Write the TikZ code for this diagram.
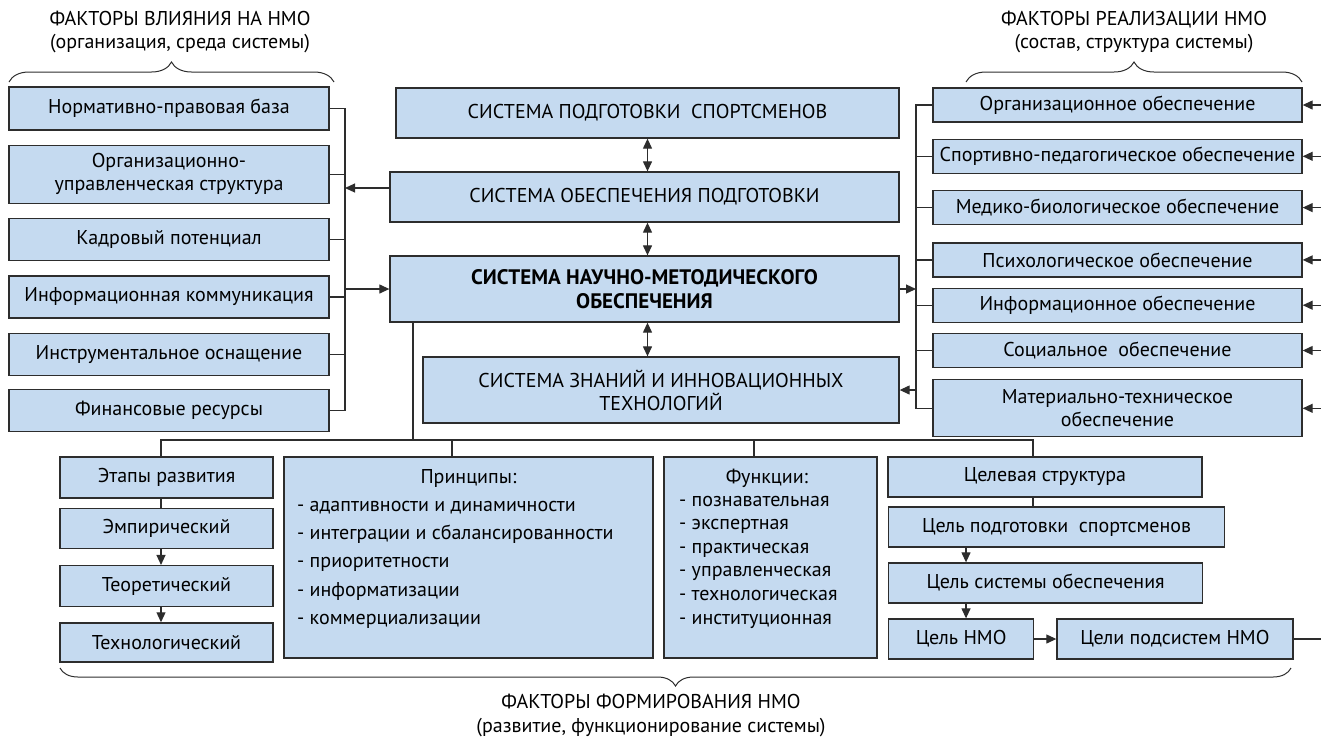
\documentclass[tikz,border=0pt]{standalone}
\usepackage{fontspec}
\setmainfont{PT Sans}
\usetikzlibrary{positioning,arrows.meta,decorations.pathreplacing}
\definecolor{boxblue}{RGB}{197,218,240}
\definecolor{edge}{RGB}{45,45,45}

\begin{document}
\begin{tikzpicture}[x=1pt,y=-1pt,
    box/.style={draw=edge, fill=boxblue, line width=1.3pt, inner sep=3pt, align=center, font=\fontsize{20}{23}\selectfont},
    lbox/.style={box, minimum width=320pt, minimum height=42pt},
    rbox/.style={box, minimum width=369pt, minimum height=34pt},
    sysbox/.style={box, minimum height=50pt},
    stage/.style={box, minimum width=213pt, minimum height=40pt},
    goal/.style={box, minimum height=40pt},
    txt/.style={font=\fontsize{20}{23}\selectfont, inner sep=0pt},
    link/.style={draw=edge, line width=1.2pt},
    arr/.style={link, -{Triangle[length=10pt,width=9pt]}},
    darr/.style={link, {Triangle[length=10pt,width=9pt]}-{Triangle[length=10pt,width=9pt]}},
    curly/.style={draw=edge, line width=1pt, decorate, decoration={brace, amplitude=#1}},
]
\useasboundingbox (0,0) rectangle (1321,740);

% headings
\node[txt, align=center] (infl) at (180,32) {ФАКТОРЫ ВЛИЯНИЯ НА НМО\\(организация, среда системы)};
\node[txt, align=center] (real) at (1134,32) {ФАКТОРЫ РЕАЛИЗАЦИИ НМО\\(состав, структура системы)};
\draw[curly=20pt] (9,82) -- (334,82);
\draw[curly=20pt] (966,82) -- (1302,82);

% left column
\node[lbox, minimum height=43pt] (norm) at (169,108.5) {Нормативно-правовая база};
\node[lbox, minimum height=58pt, below=14pt of norm] (orgu) {Организационно-\\управленческая структура};
\node[lbox, below=14pt of orgu] (kadr) {Кадровый потенциал};
\node[lbox, below=14pt of kadr] (info) {Информационная коммуникация};
\node[lbox, below=14pt of info] (instr) {Инструментальное оснащение};
\node[lbox, below=13pt of instr] (fin) {Финансовые ресурсы};

% centre
\node[sysbox, minimum width=503pt] (sps) at (647.5,113) {СИСТЕМА ПОДГОТОВКИ\ \ СПОРТСМЕНОВ};
\node[sysbox, minimum width=509pt] (sop) at (644.5,197) {СИСТЕМА ОБЕСПЕЧЕНИЯ ПОДГОТОВКИ};
\node[sysbox, minimum width=509pt, minimum height=66pt, font=\fontsize{21}{24}\selectfont\bfseries] (nmo) at (644.5,289) {СИСТЕМА НАУЧНО-МЕТОДИЧЕСКОГО\\ОБЕСПЕЧЕНИЯ};
\node[sysbox, minimum width=476pt, minimum height=66pt] (szit) at (661,390) {СИСТЕМА ЗНАНИЙ И ИННОВАЦИОННЫХ\\ТЕХНОЛОГИЙ};

% right column
\node[rbox] (rorg) at (1117.5,105) {Организационное обеспечение};
\node[rbox, below=16pt of rorg] (rsport) {Спортивно-педагогическое обеспечение};
\node[rbox, below=16pt of rsport] (rmed) {Медико-биологическое обеспечение};
\node[rbox, below=17pt of rmed] (rpsy) {Психологическое обеспечение};
\node[rbox, below=10pt of rpsy] (rinf) {Информационное обеспечение};
\node[rbox, below=10pt of rinf] (rsoc) {Социальное\ \ обеспечение};
\node[rbox, minimum height=57pt, below=11pt of rsoc] (rmat) {Материально-техническое\\обеспечение};

\coordinate (lbus) at (345,0);
\coordinate (rbus) at (916,0);
\coordinate (redge) at (1321,0);

\draw[darr] (sps.south) -- (sps.south |- sop.north);
\draw[darr] (sop.south -| sps.south) -- (nmo.north -| sps.south);
\draw[darr] (nmo.south -| sps.south) -- (szit.north -| sps.south);

\draw[link] (norm.east) -- (norm.east -| lbus) -- (fin.east -| lbus) -- (fin.east);
\foreach \n in {orgu,kadr,info,instr}
    \draw[link] (\n.east) -- (\n.east -| lbus);
\draw[arr] ([yshift=9pt]sop.west) -- ([yshift=9pt]sop.west -| lbus);
\draw[arr] (nmo.west -| lbus) -- (nmo.west);

\draw[link] (rorg.west) -- (rorg.west -| rbus) -- (rmat.west -| rbus) -- (rmat.west);
\foreach \n in {rsport,rmed,rpsy,rinf,rsoc}
    \draw[link] (\n.west) -- (\n.west -| rbus);
\draw[arr] (nmo.east) -- (nmo.east -| rbus);
\draw[arr] (szit.east -| rbus) -- (szit.east);
\foreach \n in {rorg,rsport,rmed,rpsy,rinf,rsoc,rmat}
    \draw[arr] (\n.east -| redge) -- (\n.east);

% bottom row
\node[stage, minimum height=41pt] (etap) at (166.5,477.5) {Этапы развития};
\node[stage, below=9pt of etap] (emp) {Эмпирический};
\node[stage, minimum height=41pt, below=16pt of emp] (teor) {Теоретический};
\node[stage, minimum height=39pt, below=15pt of teor] (tech) {Технологический};

\node[box, minimum width=369pt, minimum height=201pt] (prin) at (468.5,557.5) {};
\node[txt] (prinH) at (468.5,478) {Принципы:};
\foreach \t [count=\i] in {адаптивности и динамичности, интеграции и сбалансированности, приоритетности, информатизации, коммерциализации}
    \node[txt, anchor=base west] (prin\i) at (297,{483+28.3*\i}) {- \t};

\node[box, minimum width=213pt, minimum height=201pt] (func) at (770.5,557.5) {};
\node[txt] (funcH) at (767,478) {Функции:};
\foreach \t [count=\i] in {познавательная, экспертная, практическая, управленческая, технологическая, институционная}
    \node[txt, anchor=base west] (func\i) at (679,{482.4+23.6*\i}) {- \t};

\node[goal, minimum width=314pt] (cel) at (1045,477) {Целевая структура};
\node[goal, minimum width=336pt, anchor=west] (celp) at (888,527) {Цель подготовки\ \ спортсменов};
\node[goal, minimum width=314pt, anchor=west] (cels) at (888,583) {Цель системы обеспечения};
\node[goal, minimum width=145pt, anchor=west] (celn) at (888,639) {Цель НМО};
\node[goal, minimum width=236pt, right=22pt of celn] (celps) {Цели подсистем НМО};

\coordinate (hub) at (413,440);
\coordinate (sx) at (161,0);
\coordinate (px) at (452,0);
\coordinate (fx) at (754,0);
\coordinate (cx) at (1033,0);
\coordinate (gx) at (966,0);

\draw[link] (nmo.south -| hub) -- (hub);
\draw[link] (etap.north -| sx) -- (sx |- hub) -- (cx |- hub) -- (cel.north -| cx);
\draw[link] (px |- hub) -- (prin.north -| px);
\draw[link] (fx |- hub) -- (func.north -| fx);

\draw[link] (etap.south -| sx) -- (emp.north -| sx);
\draw[arr] (emp.south -| sx) -- (teor.north -| sx);
\draw[arr] (teor.south -| sx) -- (tech.north -| sx);

\draw[link] (cel.south -| cx) -- (celp.north -| cx);
\draw[arr] (celp.south -| gx) -- (cels.north -| gx);
\draw[arr] (cels.south -| gx) -- (celn.north -| gx);
\draw[arr] (celn) -- (celps);
\draw[link] (celps.east) -- (celps.east -| redge);

\draw[curly=18pt] (1291,668) -- (60,668);
\node[txt, align=center, font=\fontsize{20}{24}\selectfont] (form) at (651,715) {ФАКТОРЫ ФОРМИРОВАНИЯ НМО\\(развитие, функционирование системы)};
\end{tikzpicture}
\end{document}
